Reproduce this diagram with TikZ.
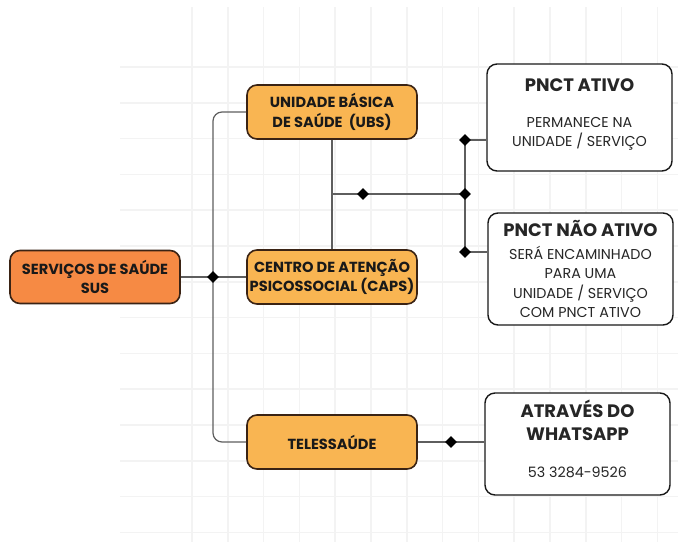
\documentclass[tikz,border=0pt]{standalone}
\usepackage{fontspec}
\setmainfont{Poppins}
\usetikzlibrary{positioning,shapes.geometric}
\definecolor{susorange}{HTML}{F68A44}
\definecolor{unitorange}{HTML}{F9B552}
\definecolor{boxedge}{HTML}{3A2314}
\definecolor{linkgray}{HTML}{5E5E5E}
\definecolor{gridgray}{HTML}{F3F3F3}
\newcommand{\unitfont}{\fontsize{14.6}{19.5}\selectfont\bfseries}
\newcommand{\headfont}{\fontsize{18}{19.5}\selectfont\bfseries}
\newcommand{\notefont}{\fontsize{14.3}{19.5}\selectfont}
\newcommand{\lowdepth}[1]{\rule[-#1]{0pt}{#1}}

\begin{document}
\begin{tikzpicture}[x=1pt,y=-1pt,
  unit/.style={draw=boxedge,line width=1.6pt,rounded corners=10pt,fill=unitorange,minimum width=170pt,minimum height=54pt,align=center,text=black!90,font=\unitfont,inner sep=0pt},
  result/.style={draw=black!90,line width=1.4pt,rounded corners=10pt,fill=white,minimum width=185pt,align=center,text=black!85,font=\notefont,inner sep=0pt},
  link/.style={draw=linkgray,line width=1.2pt},
  joint/.style={diamond,fill=black,inner sep=0pt,minimum size=12pt}]
\fill[white] (0,0) rectangle (678,542);
\useasboundingbox (0,0) rectangle (678,542);
\foreach \gx in {0,...,13} {\draw[gridgray,line width=1.6pt] (192+35.8*\gx,7) -- (192+35.8*\gx,542);}
\foreach \gy in {0,...,13} {\draw[gridgray,line width=1.6pt] (120,67+35.8*\gy) -- (678,67+35.8*\gy);}

\node[unit,fill=susorange,minimum height=53pt] (sus) at (95,277) {SERVIÇOS DE SAÚDE\\SUS};
\node[unit] (ubs) at (332,112) {UNIDADE BÁSICA\\DE SAÚDE\ \ (UBS)};
\node[unit] (caps) at (332,277) {CENTRO DE ATENÇÃO\\PSICOSSOCIAL (CAPS)};
\node[unit] (tele) at (332,442) {TELESSAÚDE};
\node[result,minimum height=107pt] (ativo) at (579.5,117.5) {{\headfont PNCT ATIVO}\\[16pt]PERMANECE NA\\UNIDADE / SERVIÇO\lowdepth{9pt}};
\node[result,minimum height=112pt] (naoativo) at (580.5,269) {{\headfont PNCT NÃO ATIVO}\\[3.5pt]SERÁ ENCAMINHADO\\PARA UMA\\UNIDADE / SERVIÇO\\COM PNCT ATIVO};
\node[result,minimum height=102pt] (whats) at (577.5,444) {{\headfont ATRAVÉS DO}\\[3.5pt]{\headfont WHATSAPP}\\[18pt]53 3284-9526\lowdepth{11pt}};

\coordinate (hub) at (213,277);
\coordinate (mid) at (333,194);
\coordinate (rmid) at (465,194);
\coordinate (rtop) at (465,140);
\coordinate (rbot) at (465,252);
\draw[link,rounded corners=9pt] (ubs.west) -| (hub) |- (tele.west);
\draw[link] (sus.east) -- (caps.west);
\draw[link] (ubs.south) -- (caps.north);
\draw[link] (mid) -- (rmid);
\draw[link] (rtop) -- (rbot);
\draw[link] (rtop) -- (rtop -| ativo.west);
\draw[link] (rbot) -- (rbot -| naoativo.west);
\draw[link] (tele.east) -- (tele.east -| whats.west);

\node[joint] (j1) at (hub) {};
\node[joint] (j2) at (363,194) {};
\node[joint] (j3) at (rmid) {};
\node[joint] (j4) at (rtop) {};
\node[joint] (j5) at (rbot) {};
\node[joint] (j6) at (451,442) {};
\end{tikzpicture}
\end{document}
